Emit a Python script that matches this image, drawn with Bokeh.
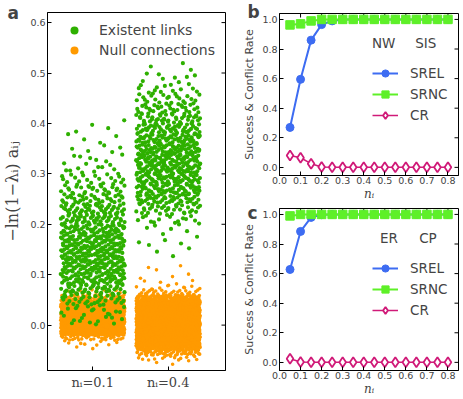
import math
from bokeh.plotting import figure
from bokeh.layouts import row, column
from bokeh.models import (Range1d, FixedTicker, Legend, LegendItem, Label, Title,
                          PrintfTickFormatter)
from bokeh.embed import file_html
from bokeh.resources import INLINE

# ---------------- Panel a data (binned distributions) ----
group_labels = ["nᵢ=0.1", "nᵢ=0.4"]
group_pos = [1, 2]

green_bin_w = 0.02
green_lo_1 = [0.00, 0.02, 0.04, 0.06, 0.08, 0.10, 0.12, 0.14, 0.16, 0.18, 0.20,
              0.22, 0.24, 0.26, 0.28, 0.30, 0.32, 0.34, 0.36, 0.38, 0.40]
green_cnt_1 = [12, 15, 30, 45, 55, 60, 62, 62, 60, 55, 50,
               44, 36, 28, 18, 11, 7, 5, 4, 3, 1]
green_lo_2 = [0.12, 0.14, 0.16, 0.18, 0.20, 0.22, 0.24, 0.26, 0.28, 0.30, 0.32,
              0.34, 0.36, 0.38, 0.40, 0.42, 0.44, 0.46, 0.48, 0.50]
green_cnt_2 = [1, 3, 4, 6, 15, 32, 48, 58, 64, 68, 68,
               64, 58, 52, 42, 32, 22, 13, 8, 3]

orange_bin_w = 0.01
orange_lo_1 = [-0.05, -0.04, -0.03, -0.02, -0.01, 0.00, 0.01, 0.02, 0.03, 0.04, 0.05, 0.06]
orange_cnt_1 = [2, 8, 35, 150, 170, 170, 170, 170, 160, 120, 45, 15]
orange_lo_2 = [-0.08, -0.07, -0.06, -0.05, -0.04, -0.03, -0.02, -0.01, 0.00, 0.01,
               0.02, 0.03, 0.04, 0.05, 0.06, 0.07, 0.08, 0.09, 0.10, 0.11]
orange_cnt_2 = [3, 14, 45, 110, 165, 170, 170, 170, 170, 170,
                170, 165, 150, 80, 25, 10, 4, 2, 2, 2]

# ---------------- Panels b, c data ----------------
n_i = [0.05, 0.10, 0.15, 0.20, 0.25, 0.30, 0.35, 0.40, 0.45, 0.50, 0.55, 0.60,
       0.65, 0.70, 0.75, 0.80]
b_srel = [0.27, 0.595, 0.86, 0.965, 0.99, 1.0, 1.0, 1.0, 1.0, 1.0, 1.0, 1.0, 1.0, 1.0, 1.0, 1.0]
b_srnc = [0.963, 0.97, 0.99, 1.0, 1.0, 1.0, 1.0, 1.0, 1.0, 1.0, 1.0, 1.0, 1.0, 1.0, 1.0, 1.0]
b_cr = [0.08, 0.065, 0.025, 0.002, 0.0, 0.0, 0.0, 0.0, 0.0, 0.0, 0.0, 0.0, 0.0, 0.0, 0.0, 0.0]
c_srel = [0.628, 0.885, 0.98, 0.998, 1.0, 1.0, 1.0, 1.0, 1.0, 1.0, 1.0, 1.0, 1.0, 1.0, 1.0, 1.0]
c_srnc = [0.99, 1.0, 1.0, 1.0, 1.0, 1.0, 1.0, 1.0, 1.0, 1.0, 1.0, 1.0, 1.0, 1.0, 1.0, 1.0]
c_cr = [0.025, 0.003, 0.0, 0.0, 0.0, 0.0, 0.0, 0.0, 0.0, 0.0, 0.0, 0.0, 0.0, 0.0, 0.0, 0.0]

x_ticks_bc = [0.0, 0.1, 0.2, 0.3, 0.4, 0.5, 0.6, 0.7, 0.8]
y_ticks_bc = [0.0, 0.2, 0.4, 0.6, 0.8, 1.0]
y_ticks_a = [0.0, 0.1, 0.2, 0.3, 0.4, 0.5, 0.6]

SANS = "DejaVu Sans"
SERIF = "DejaVu Serif"
GREEN = "#2eb000"
ORANGE = "#ff9a00"
C_SREL = "#3d6cf2"
C_SRNC = "#5ef028"
C_CR = "#d01a78"


def halton(i, b):
    f, r = 1.0, 0.0
    while i > 0:
        f /= b
        r += f * (i % b)
        i //= b
    return r


def spread(center, halfw, lows, width, counts, start=1):
    """Even (low-discrepancy) placement of each bin's points inside the bin."""
    xs, ys = [], []
    k = start
    for lo, c in zip(lows, counts):
        for _ in range(c):
            xs.append(center + (2 * halton(k, 2) - 1) * halfw)
            ys.append(lo + halton(k, 3) * width)
            k += 1
    return xs, ys


def style_axes(ax, size):
    ax.major_label_text_font = SANS
    ax.major_label_text_font_size = size
    ax.major_tick_in = 4
    ax.major_tick_out = 0
    ax.minor_tick_line_color = None
    ax.axis_line_color = "black"
    ax.major_label_standoff = 2


def mirror_ticks(p, yticks, xticks=None):
    # inward tick marks on the right (and top) frame edges, clipped to the frame
    p.scatter([p.x_range.end] * len(yticks), yticks, marker="dash", size=8,
              line_color="black", line_width=1)
    if xticks is not None:
        p.scatter(xticks, [p.y_range.end] * len(xticks), marker="dash", size=8,
                  angle=math.pi / 2, line_color="black", line_width=1)


def letter(p, txt, offset, standoff):
    p.add_layout(Title(text=txt, align="left", offset=offset, standoff=standoff,
                       text_font=SANS, text_font_style="bold", text_font_size="17px",
                       vertical_align="bottom"), "above")


# ---------------- Panel a ----------------
HALFW = 0.425
pa = figure(width=240, height=398, x_range=Range1d(0.4, 2.76), y_range=Range1d(-0.09, 0.62),
            output_backend="svg", toolbar_location=None,
            min_border_left=45, min_border_right=15, min_border_top=12, min_border_bottom=28)
pa.grid.visible = False
pa.outline_line_color = "black"

ox1, oy1 = spread(group_pos[0], HALFW, orange_lo_1, orange_bin_w, orange_cnt_1, 1)
ox2, oy2 = spread(group_pos[1], HALFW, orange_lo_2, orange_bin_w, orange_cnt_2, 5001)
gx1, gy1 = spread(group_pos[0], HALFW, green_lo_1, green_bin_w, green_cnt_1, 9001)
gx2, gy2 = spread(group_pos[1], HALFW, green_lo_2, green_bin_w, green_cnt_2, 13001)

r_or = pa.scatter(ox1 + ox2, oy1 + oy2, size=3.6, color=ORANGE, line_color=None)
r_gr = pa.scatter(gx1 + gx2, gy1 + gy2, size=4.2, color=GREEN, line_color=None)
mirror_ticks(pa, y_ticks_a)

pa.xaxis.ticker = FixedTicker(ticks=group_pos)
pa.xaxis.major_label_overrides = {group_pos[0]: group_labels[0], group_pos[1]: group_labels[1]}
pa.yaxis.ticker = FixedTicker(ticks=y_ticks_a)
pa.yaxis.formatter = PrintfTickFormatter(format="%.1f")
style_axes(pa.xaxis[0], "9.5px")
style_axes(pa.yaxis[0], "9.5px")
pa.xaxis.major_label_text_font = SERIF
pa.xaxis.major_label_text_font_size = "13px"
pa.xaxis.major_label_standoff = 4
pa.yaxis.axis_label = "−ln(1−λᵢ) aᵢⱼ"
pa.yaxis.axis_label_text_font = SERIF
pa.yaxis.axis_label_text_font_style = "normal"
pa.yaxis.axis_label_text_font_size = "16px"
pa.yaxis.axis_label_standoff = 5

leg_a = Legend(items=[LegendItem(label="Existent links", renderers=[r_gr]),
                      LegendItem(label="Null connections", renderers=[r_or])],
               location=(17, 310), padding=0, margin=0, spacing=0,
               glyph_width=20, glyph_height=20, label_height=20, label_standoff=15,
               label_text_font=SANS, label_text_font_size="14px",
               border_line_color=None, background_fill_alpha=0)
pa.add_layout(leg_a)
letter(pa, "a", -40, -20)


# ---------------- Panels b, c ----------------
def rate_panel(height, top, bottom, srel, srnc, cr, let, let_standoff, tag1, tag2, tag_x):
    p = figure(width=220, height=height, x_range=Range1d(0.0, 0.85), y_range=Range1d(-0.055, 1.04),
               output_backend="svg", toolbar_location=None,
               min_border_left=39, min_border_right=2, min_border_top=top, min_border_bottom=bottom)
    p.grid.visible = False
    p.outline_line_color = "black"
    mirror_ticks(p, y_ticks_bc, x_ticks_bc)
    l1 = p.line(n_i, srel, color=C_SREL, line_width=2)
    s1 = p.scatter(n_i, srel, marker="circle", size=8, color=C_SREL)
    l2 = p.line(n_i, srnc, color=C_SRNC, line_width=2)
    s2 = p.scatter(n_i, srnc, marker="square", size=8.5, color=C_SRNC)
    l3 = p.line(n_i, cr, color=C_CR, line_width=1.5)
    s3 = p.scatter(n_i, cr, marker="diamond", size=10, line_color=C_CR, fill_color="white",
                   line_width=1.8)
    p.xaxis.ticker = FixedTicker(ticks=x_ticks_bc)
    p.yaxis.ticker = FixedTicker(ticks=y_ticks_bc)
    p.xaxis.formatter = PrintfTickFormatter(format="%.1f")
    p.yaxis.formatter = PrintfTickFormatter(format="%.1f")
    style_axes(p.xaxis[0], "9.5px")
    style_axes(p.yaxis[0], "9.5px")
    p.xaxis.major_label_standoff = 1
    p.xaxis.axis_label = "nᵢ"
    p.xaxis.axis_label_text_font = SERIF
    p.xaxis.axis_label_text_font_style = "italic"
    p.xaxis.axis_label_text_font_size = "12px"
    p.xaxis.axis_label_standoff = 0
    p.yaxis.axis_label = "Success & Conflict Rate"
    p.yaxis.axis_label_text_font = SANS
    p.yaxis.axis_label_text_font_style = "normal"
    p.yaxis.axis_label_text_font_size = "11px"
    p.yaxis.axis_label_standoff = 3
    leg = Legend(items=[LegendItem(label="SREL", renderers=[l1, s1]),
                        LegendItem(label="SRNC", renderers=[l2, s2]),
                        LegendItem(label="CR", renderers=[l3, s3])],
                 location=(93, 51), padding=0, margin=0, spacing=3,
                 glyph_width=26, glyph_height=18, label_height=18, label_standoff=12,
                 label_text_font=SANS, label_text_font_size="13.5px",
                 border_line_color=None, background_fill_alpha=0)
    p.add_layout(leg)
    for t, xx in zip([tag1, tag2], tag_x):
        p.add_layout(Label(x=xx, y=0.838, text=t, text_font=SANS, text_font_size="13.5px",
                           text_align="center", text_baseline="middle"))
    letter(p, let, -32, let_standoff)
    return p


pb = rate_panel(203, 13, 28, b_srel, b_srnc, b_cr, "b", -16, "NW", "SIS", [0.495, 0.695])
pc = rate_panel(195, 5, 28, c_srel, c_srnc, c_cr, "c", -28, "ER", "CP", [0.52, 0.705])

layout = row(pa, column(pb, pc, spacing=0), spacing=0)
open("out.html", "w").write(file_html(layout, INLINE))
